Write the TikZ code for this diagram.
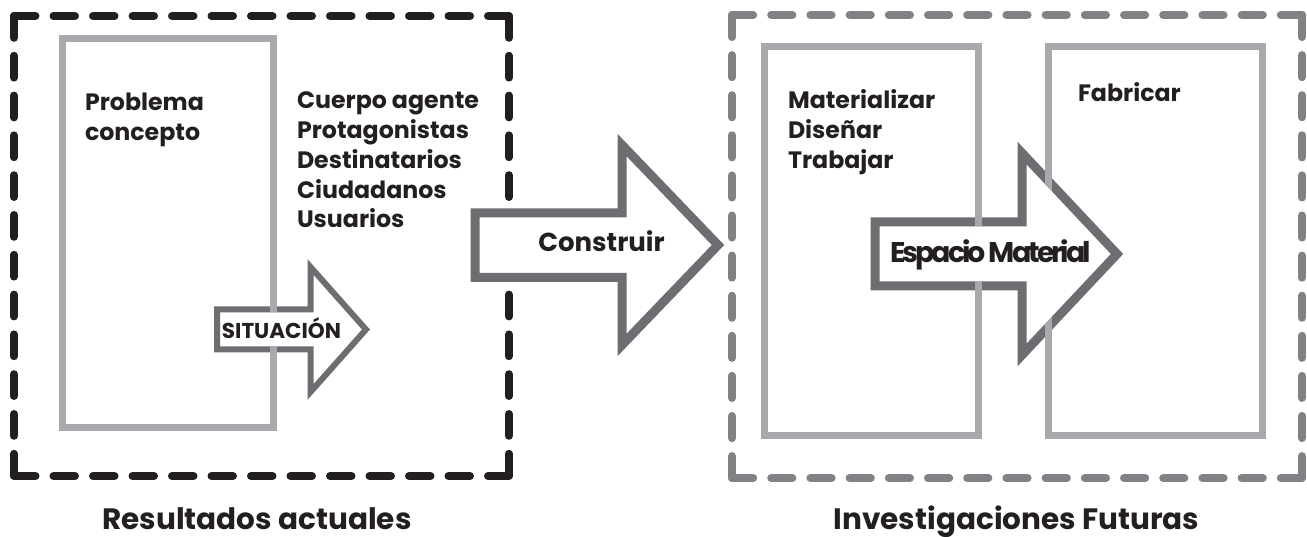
\documentclass[tikz,border=0pt]{standalone}
\usepackage{fontspec}
\setmainfont{Poppins}
\usetikzlibrary{positioning}
\definecolor{inkdark}{HTML}{231F20}
\definecolor{framegray}{HTML}{808285}
\definecolor{panelgray}{HTML}{A7A9AC}
\definecolor{arrowgray}{HTML}{6D6E71}

\tikzset{
  box/.style={inner sep=0pt, outer sep=0pt},
  nowframe/.style={draw=inkdark, line width=8pt, line cap=round},
  nextframe/.style={draw=framegray, line width=8pt, line cap=round},
  panel/.style={box, draw=panelgray, line width=7pt},
  bigarrow/.style={draw=arrowgray, fill=white, line width=9pt},
  bodytext/.style={box, anchor=base west, align=left, text=inkdark,
    font=\bfseries\fontsize{23.7}{29.7}\selectfont},
  arrowlabel/.style={box, anchor=base, text=inkdark, font=\bfseries\fontsize{26}{26}\selectfont},
  caption/.style={box, anchor=base, text=inkdark, font=\bfseries\fontsize{29.5}{29.5}\selectfont}
}

\begin{document}
\begin{tikzpicture}[x=1pt,y=-1pt]
  \useasboundingbox (0,0) rectangle (1307,537);

  % dashed frames
  \node[box, minimum width=495pt, minimum height=460pt] (nowarea) at (261.5,246) {};
  \node[box, minimum width=570pt, minimum height=463pt] (nextarea) at (1017,246.5) {};
  \draw[nowframe, dash pattern=on 21.5pt off 18pt] (nowarea.north west) -- (nowarea.north east);
  \draw[nowframe, dash pattern=on 21.5pt off 18pt] (nowarea.south west) -- (nowarea.south east);
  \draw[nowframe, dash pattern=on 21.8pt off 18pt] (nowarea.north west) -- (nowarea.south west);
  \draw[nowframe, dash pattern=on 21.8pt off 18pt] (nowarea.north east) -- (nowarea.south east);
  \draw[nextframe, dash pattern=on 21.2pt off 18pt] (nextarea.north west) -- (nextarea.north east);
  \draw[nextframe, dash pattern=on 21.2pt off 18pt] (nextarea.south west) -- (nextarea.south east);
  \draw[nextframe, dash pattern=on 22.1pt off 18pt] (nextarea.north west) -- (nextarea.south west);
  \draw[nextframe, dash pattern=on 22.1pt off 18pt] (nextarea.north east) -- (nextarea.south east);

  % panels
  \node[panel, minimum width=211pt, minimum height=388.5pt] (problem) at (167.5,233.25) {};
  \node[panel, minimum width=214pt, minimum height=388pt] (design) at (871,241) {};
  \node[panel, minimum width=214pt, minimum height=388pt] (make) at (1155.5,241) {};

  % block arrows
  \draw[bigarrow, line width=6pt] (217,309.5) -- (310.5,309.5) -- (310.5,267) -- (366,329.5)
    -- (310.5,392) -- (310.5,349.5) -- (217,349.5) -- cycle;
  \draw[bigarrow] (475,213) -- (622,213) -- (622,145) -- (718,245)
    -- (622,345) -- (622,277.5) -- (475,277.5) -- cycle;
  \draw[bigarrow] (875,222) -- (1022,222) -- (1022,153) -- (1117,254)
    -- (1022,355) -- (1022,286) -- (875,286) -- cycle;

  % panel edges seen through the arrow borders
  \begin{scope}[blend mode=lighten]
    \foreach \p in {problem,design,make}
      \draw[draw=panelgray, line width=7pt] (\p.north west) rectangle (\p.south east);
  \end{scope}

  % texts (base = last line)
  \node[bodytext] (problemtext) at (85,140.5) {Problema\\concepto};
  \node[bodytext] (agents) at (297,227.8) {Cuerpo agente\\Protagonistas\\Destinatarios\\Ciudadanos\\Usuarios};
  \node[bodytext] (actions) at (788,168.4) {Materializar\\Diseñar\\Trabajar};
  \node[bodytext] (makelabel) at (1078,102) {Fabricar};

  \node[arrowlabel, font=\bfseries\fontsize{21.5}{21.5}\selectfont] (situation) at (281.5,338) {SITUACIÓN};
  \node[arrowlabel] (build) at (601.5,252) {Construir};
  \node[arrowlabel, font=\bfseries\fontsize{28.5}{28.5}\selectfont\addfontfeature{LetterSpace=-10.5}] (space) at (990.5,263) {Espacio Material};

  \node[caption] (current) at (257,529) {Resultados actuales};
  \node[caption] (future) at (1016.5,529) {Investigaciones Futuras};
\end{tikzpicture}
\end{document}
